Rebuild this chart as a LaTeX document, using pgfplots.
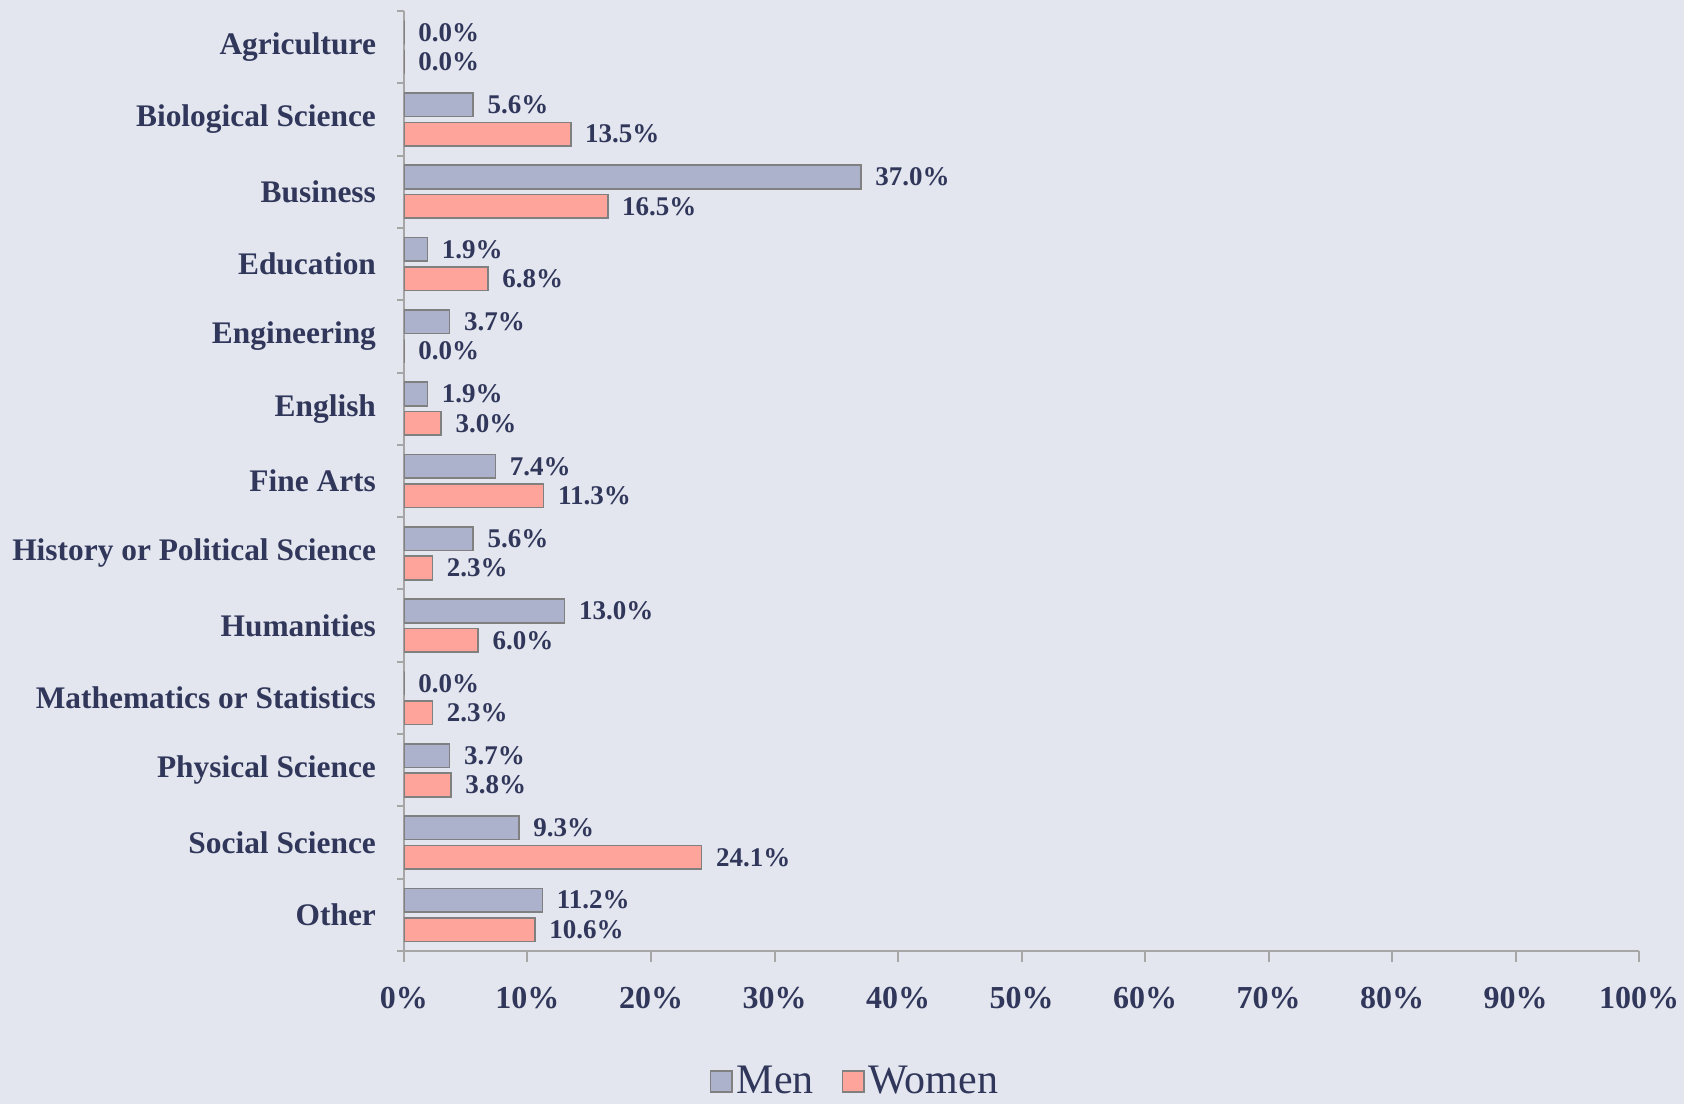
\documentclass[border=0pt]{standalone}
\usepackage{fontspec}
\setmainfont{Liberation Serif}
\usepackage{pgfplots}
\pgfplotsset{compat=1.18}
\definecolor{bgcol}{HTML}{E3E6EE}
\definecolor{menfill}{HTML}{ADB2CC}
\definecolor{womenfill}{HTML}{FFA49A}
\definecolor{barEdge}{HTML}{808080}
\definecolor{axisGray}{HTML}{A6A6A6}
\definecolor{txt}{HTML}{30375A}

\begin{document}
\begin{tikzpicture}
  \fill[bgcol] (-202pt,-76.5pt) rectangle (640pt,475.5pt);
  \begin{axis}[
      at={(0,0)}, anchor=south west,
      scale only axis,
      width=617.5pt, height=470pt,
      xbar, bar width=11.8pt,
      xmin=0, xmax=100,
      ymin=-0.5, ymax=12.5,
      axis x line*=bottom, axis y line*=left,
      axis line style={axisGray, line width=1pt},
      xtick={0,10,...,100},
      xticklabels={0\%,10\%,20\%,30\%,40\%,50\%,60\%,70\%,80\%,90\%,100\%},
      xticklabel style={font=\fontsize{16}{17}\selectfont\bfseries, text=txt, yshift=-9pt},
      major x tick style={axisGray, line width=1pt},
      ytick={0,...,12},
      yticklabels={Other,Social Science,Physical Science,Mathematics or Statistics,Humanities,History or Political Science,Fine Arts,English,Engineering,Education,Business,Biological Science,Agriculture},
      yticklabel style={font=\fontsize{15.7}{16}\selectfont\bfseries, text=txt, xshift=-5pt},
      major y tick style={draw=none},
      minor ytick={-0.5,0.5,...,12.5},
      minor y tick style={axisGray, line width=1pt},
      minor tick length=3.5pt,
      major tick length=5.5pt,
      tick align=outside,
      nodes near coords={\pgfmathprintnumber[fixed,fixed zerofill,precision=1,assume math mode=true]{\pgfplotspointmeta}\%},
      nodes near coords style={font=\fontsize{13.5}{14}\selectfont\bfseries, text=txt, anchor=west, xshift=3.5pt},
      point meta=x,
      legend style={at={(0.366,-0.139)}, anchor=center, draw=none, fill=none,
        legend columns=2, font=\fontsize{21}{23}\selectfont, text=txt,
        /tikz/every even column/.append style={column sep=12pt}},
      legend image code/.code={\draw[#1, draw=barEdge, line width=0.8pt] (0pt,-5.3pt) rectangle (10.7pt,5.3pt);},
    ]
    \addplot+[bar shift=7.35pt, fill=menfill, draw=barEdge, line width=0.8pt] coordinates {
      (11.2,0) (9.3,1) (3.7,2) (0.0,3) (13.0,4) (5.6,5) (7.4,6) (1.9,7) (3.7,8) (1.9,9) (37.0,10) (5.6,11) (0.0,12)
    };
    \addlegendentry{Men}
    \addplot+[bar shift=-7.35pt, fill=womenfill, draw=barEdge, line width=0.8pt] coordinates {
      (10.6,0) (24.1,1) (3.8,2) (2.3,3) (6.0,4) (2.3,5) (11.3,6) (3.0,7) (0.0,8) (6.8,9) (16.5,10) (13.5,11) (0.0,12)
    };
    \addlegendentry{Women}
  \end{axis}
  \pgfresetboundingbox
  \path (-202pt,-76.5pt) rectangle (640pt,475.5pt);
\end{tikzpicture}
\end{document}
